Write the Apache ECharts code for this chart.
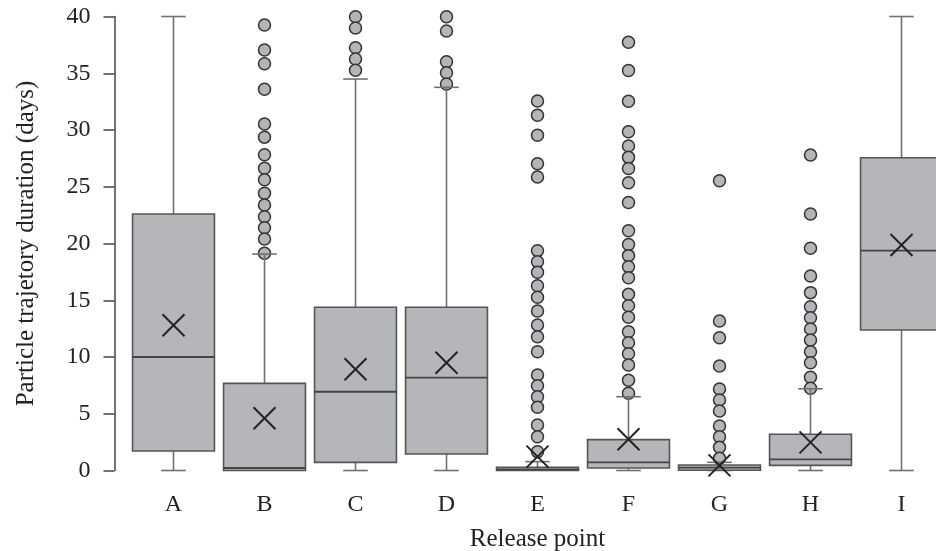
<!DOCTYPE html>
<html>
<head>
<meta charset="utf-8">
<script src="https://cdn.jsdelivr.net/npm/echarts@6/dist/echarts.min.js"></script>
<style>
  html, body { margin: 0; padding: 0; background: #fff; }
  #chart { width: 936px; height: 551px; }
</style>
</head>
<body>
<div id="chart"></div>
<script>
// categories and box statistics (days)
var categories = ['A', 'B', 'C', 'D', 'E', 'F', 'G', 'H', 'I'];
var whiskerLow = [0, 0, 0, 0, 0, 0, 0, 0, 0];
var q1 = [1.72, 0, 0.72, 1.45, 0, 0.22, 0.02, 0.45, 12.38];
var median = [10, 0.22, 6.94, 8.18, 0.1, 0.72, 0.25, 0.98, 19.37];
var q3 = [22.6, 7.68, 14.38, 14.38, 0.28, 2.72, 0.48, 3.19, 27.56];
var whiskerHigh = [40, 19.07, 34.49, 33.76, 0.78, 6.5, 0.72, 7.2, 40];
var means = [12.8, 4.6, 8.92, 9.5, 1.22, 2.75, 0.45, 2.48, 19.87];

// outliers per release point
var outA = [];
var outB = [39.25, 37.05, 35.84, 33.59, 30.53, 29.37, 27.82, 26.63, 25.62, 24.42, 23.39, 22.36, 21.39, 20.40, 19.14];
var outC = [39.98, 38.99, 37.25, 36.26, 35.26];
var outD = [39.98, 38.72, 36.02, 35.05, 34.05];
var outE = [32.56, 31.30, 29.53, 27.03, 25.86, 19.37, 18.40, 17.46, 16.28, 15.26, 14.05, 12.82, 11.79, 10.47, 8.41, 7.47, 6.50, 5.57, 4.01, 2.98, 1.66];
var outF = [37.73, 35.24, 32.54, 29.85, 28.59, 27.59, 26.61, 25.36, 23.61, 21.13, 19.91, 18.93, 17.96, 16.99, 15.52, 14.52, 13.50, 12.23, 11.26, 10.29, 9.30, 7.95, 6.80];
var outG = [25.53, 13.17, 11.70, 9.21, 7.18, 6.21, 5.24, 3.92, 2.98, 2.04, 1.07];
var outH = [27.80, 22.60, 19.58, 17.14, 15.67, 14.43, 13.46, 12.47, 11.50, 10.47, 9.50, 8.21, 7.25];
var outI = [];

var yTicks = [0, 5, 10, 15, 20, 25, 30, 35, 40];

var font = 'Liberation Serif';

var boxData = categories.map(function (c, i) {
  return [i, whiskerLow[i], q1[i], median[i], q3[i], whiskerHigh[i]];
});
var meanData = categories.map(function (c, i) {
  return [i, means[i]];
});
var outlierData = [];
[outA, outB, outC, outD, outE, outF, outG, outH, outI].forEach(function (arr, i) {
  arr.forEach(function (v) { outlierData.push([i, v]); });
});

function renderBox(params, api) {
  var idx = api.value(0);
  var x = api.coord([idx, 0])[0];
  var yLo = api.coord([idx, api.value(1)])[1];
  var yQ1 = api.coord([idx, api.value(2)])[1];
  var yMed = api.coord([idx, api.value(3)])[1];
  var yQ3 = api.coord([idx, api.value(4)])[1];
  var yHi = api.coord([idx, api.value(5)])[1];
  var band = api.size([1, 0])[0];
  var bw = band * 0.9;
  var cw = band * 0.27;
  var wStyle = { stroke: '#707070', lineWidth: 1.6 };
  var children = [];
  if (yHi < yQ3) {
    children.push({ type: 'line', shape: { x1: x, y1: yQ3, x2: x, y2: yHi }, style: wStyle });
    children.push({ type: 'line', shape: { x1: x - cw / 2, y1: yHi, x2: x + cw / 2, y2: yHi }, style: wStyle });
  }
  if (yLo > yQ1) {
    children.push({ type: 'line', shape: { x1: x, y1: yQ1, x2: x, y2: yLo }, style: wStyle });
    children.push({ type: 'line', shape: { x1: x - cw / 2, y1: yLo, x2: x + cw / 2, y2: yLo }, style: wStyle });
  }
  children.push({
    type: 'rect',
    shape: { x: x - bw / 2, y: yQ3, width: bw, height: yQ1 - yQ3 },
    style: { fill: '#b5b6b9', stroke: '#555', lineWidth: 1.6 }
  });
  children.push({
    type: 'line',
    shape: { x1: x - bw / 2, y1: yMed, x2: x + bw / 2, y2: yMed },
    style: { stroke: '#444', lineWidth: 1.8 }
  });
  return { type: 'group', children: children };
}

function renderMean(params, api) {
  var p = api.coord([api.value(0), api.value(1)]);
  var h = 11;
  var st = { stroke: '#222', lineWidth: 2 };
  return {
    type: 'group',
    children: [
      { type: 'line', shape: { x1: p[0] - h, y1: p[1] - h, x2: p[0] + h, y2: p[1] + h }, style: st },
      { type: 'line', shape: { x1: p[0] - h, y1: p[1] + h, x2: p[0] + h, y2: p[1] - h }, style: st }
    ]
  };
}

var chart = echarts.init(document.getElementById('chart'), null, { renderer: 'canvas' });

chart.setOption({
  animation: false,
  backgroundColor: '#fff',
  grid: { left: 128, width: 819, top: 16.5, bottom: 80.5, outerBoundsMode: 'none', containLabel: false },
  xAxis: {
    type: 'category',
    data: categories,
    boundaryGap: true,
    name: 'Release point',
    nameLocation: 'middle',
    nameGap: 56,
    nameTextStyle: { fontFamily: font, fontSize: 25, color: '#222' },
    axisLine: { show: false },
    axisTick: { show: false },
    axisLabel: { fontFamily: font, fontSize: 24, color: '#222', margin: 22 },
    splitLine: { show: false }
  },
  yAxis: {
    type: 'value',
    min: yTicks[0],
    max: yTicks[yTicks.length - 1],
    interval: 5,
    offset: 13.5,
    name: 'Particle trajetory duration (days)',
    nameLocation: 'middle',
    nameGap: 76,
    nameTextStyle: { fontFamily: font, fontSize: 25, color: '#222' },
    axisLine: { show: true, lineStyle: { color: '#444', width: 1.5 } },
    axisTick: { show: true, length: 11, lineStyle: { color: '#444', width: 1.5 } },
    axisLabel: { fontFamily: font, fontSize: 24, color: '#222', margin: 24 },
    splitLine: { show: false }
  },
  series: [
    {
      type: 'scatter',
      data: outlierData,
      symbol: 'circle',
      symbolSize: 12,
      z: 1,
      itemStyle: { color: '#b4b5b8', borderColor: '#333', borderWidth: 1.5, opacity: 1 }
    },
    {
      type: 'custom',
      data: boxData,
      renderItem: renderBox,
      encode: { x: 0, y: [1, 2, 3, 4, 5] },
      z: 2
    },
    {
      type: 'custom',
      data: meanData,
      renderItem: renderMean,
      encode: { x: 0, y: 1 },
      z: 3
    }
  ]
});
</script>
</body>
</html>
